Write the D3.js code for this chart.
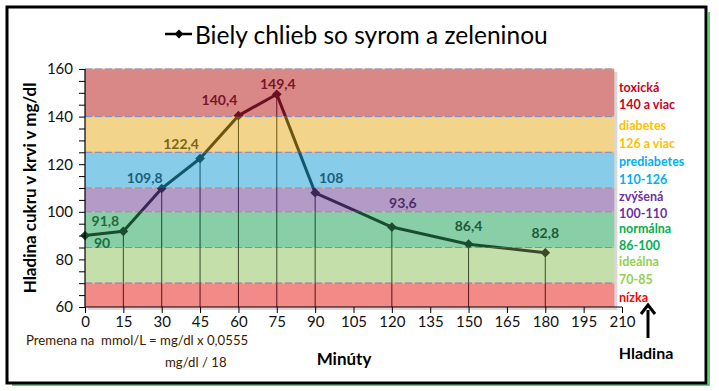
<!DOCTYPE html>
<html>
<head>
<meta charset="utf-8">
<script src="https://cdn.jsdelivr.net/npm/d3@7"></script>
<style>
  body { margin: 0; background: #fff; }
  svg { display: block; font-family: Lato, "Open Sans", sans-serif; }
</style>
</head>
<body>
<script>
// measured points of the glucose curve
var minutes = [0, 15, 30, 45, 60, 75, 90, 120, 150, 180],
	glucose = [90, 91.8, 109.8, 122.4, 140.4, 149.4, 108, 93.6, 86.4, 82.8],
// zone limits (mg/dl)
	zoneLow  = [60, 70, 85, 100, 110, 125, 140],
	zoneHigh = [70, 85, 100, 110, 125, 140, 160],
// x and y tick labels
	xTicks = [0, 15, 30, 45, 60, 75, 90, 105, 120, 135, 150, 165, 180, 195, 210],
	yTicks = [60, 80, 100, 120, 140, 160],
// zone captions on the right, top to bottom
	zoneCaptions = ['toxická', '140 a viac', 'diabetes', '126 a viac', 'prediabetes', '110-126',
		'zvýšená', '100-110', 'normálna', '86-100', 'ideálna', '70-85', 'nízka'];

// styles per zone (same order as zoneLow)
var zoneFill = ['#f28a88', '#c4dfa9', '#88cfa7', '#b49ac6', '#87cdea', '#f2d58a', '#d98887'],
	zoneLine = ['#5a1018', '#3b4a2b', '#1a4d30', '#3b2658', '#14566b', '#6b5510', '#6b1020'],
	captionColor = ['#cc0022', '#cc0022', '#ffc000', '#ffc000', '#00b0f0', '#00b0f0',
		'#7030a0', '#7030a0', '#00b050', '#00b050', '#92d050', '#92d050', '#ff0000'],
	captionY = [87, 104, 125, 143, 161, 179, 196, 213, 228, 245, 261, 279, 297];

// label offsets from each point [dx, dy] and their colours
var labelOff = [[17, 7], [-18, -11], [-17, -11], [-19, -15], [-19, -16], [1, -11], [16, -15], [11, -25], [0, -19], [0, -20]],
	labelColor = ['#1e6b3e', '#1e6b3e', '#1b5f7a', '#7a6510', '#7a1525', '#7a1525', '#1b5f7a', '#4a2e6b', '#1e5a3a', '#1e5a3a'];

var W = 719, H = 391;
var svg = d3.select('body').append('svg')
	.attr('width', W)
	.attr('height', H);

var x = d3.scaleLinear().domain([0, 210]).range([85, 622]),
	y = d3.scaleLinear().domain([60, 160]).range([307, 69]);
var bandRight = x(207);

// outer frame with green shadow on the right and bottom
svg.append('path')
	.attr('d', 'M709,12 V385 H12')
	.attr('fill', 'none').attr('stroke', '#2fbf3f').attr('stroke-width', 1.5);
svg.append('rect')
	.attr('x', 7).attr('y', 7).attr('width', 699).attr('height', 376)
	.attr('fill', '#fff').attr('stroke', '#000').attr('stroke-width', 3);

// shadow behind bands
svg.append('rect')
	.attr('x', x(0) + 3).attr('y', y(160) + 3)
	.attr('width', bandRight - x(0)).attr('height', y(60) - y(160))
	.attr('fill', '#d8d8d8');

// zone bands
var defs = svg.append('defs');
zoneLow.forEach(function(lo, i) {
	var hi = zoneHigh[i];
	svg.append('rect')
		.attr('x', x(0))
		.attr('y', y(hi))
		.attr('width', bandRight - x(0))
		.attr('height', y(lo) - y(hi))
		.attr('fill', zoneFill[i]);
	defs.append('clipPath').attr('id', 'zone' + i)
		.append('rect')
		.attr('x', 0)
		.attr('y', i == zoneLow.length - 1 ? 0 : y(hi))
		.attr('width', W)
		.attr('height', i == zoneLow.length - 1 ? y(lo) : (i == 0 ? y(lo) - y(hi) + 10 : y(lo) - y(hi)));
});

// dashed zone borders
zoneHigh.concat([70]).forEach(function(v) {
	svg.append('line')
		.attr('x1', x(0)).attr('x2', bandRight)
		.attr('y1', y(v)).attr('y2', y(v))
		.attr('stroke', '#f0b090').attr('stroke-width', 1);
	svg.append('line')
		.attr('x1', x(0)).attr('x2', bandRight)
		.attr('y1', y(v)).attr('y2', y(v))
		.attr('stroke', '#6e8fd2').attr('stroke-width', 1)
		.attr('stroke-dasharray', '7,3');
});

// curve and drop lines, drawn once per zone with that zone's colour
var line = d3.line()
	.x(function(d, i) { return x(minutes[i]); })
	.y(function(d) { return y(d); });

zoneLow.forEach(function(lo, i) {
	var g = svg.append('g').attr('clip-path', 'url(#zone' + i + ')');
	g.selectAll('line.drop')
		.data(glucose.slice(1))
		.enter().append('line')
		.attr('x1', function(d, j) { return x(minutes[j + 1]); })
		.attr('x2', function(d, j) { return x(minutes[j + 1]); })
		.attr('y1', function(d) { return y(d); })
		.attr('y2', y(60))
		.attr('stroke', zoneLine[i])
		.attr('stroke-width', 1);
	g.append('path')
		.attr('d', line(glucose))
		.attr('fill', 'none')
		.attr('stroke', zoneLine[i])
		.attr('stroke-width', 3)
		.attr('stroke-linejoin', 'round');
	g.selectAll('path.mark')
		.data(glucose)
		.enter().append('path')
		.attr('d', d3.symbol().type(d3.symbolDiamond2).size(60))
		.attr('transform', function(d, j) { return 'translate(' + x(minutes[j]) + ',' + y(d) + ')'; })
		.attr('fill', zoneLine[i]);
});

// axes
var yAxis = d3.axisLeft(y)
	.tickValues(d3.range(60, 161, 5))
	.tickSize(6)
	.tickFormat(function(d) { return yTicks.indexOf(d) >= 0 ? d : ''; });
var gy = svg.append('g').attr('transform', 'translate(' + x(0) + ',0)').call(yAxis);
var xAxis = d3.axisBottom(x)
	.tickValues(xTicks)
	.tickSize(6);
var gx = svg.append('g').attr('transform', 'translate(0,' + y(60) + ')').call(xAxis);
[gx, gy].forEach(function(g) {
	g.select('.domain').attr('stroke', '#000').attr('stroke-width', 1.2);
	g.selectAll('.tick line').attr('stroke', '#000');
	g.selectAll('.tick text')
		.attr('font-family', 'Lato, sans-serif')
		.attr('font-size', 15)
		.attr('fill', '#111');
});
gy.selectAll('.tick text').attr('x', -12);
gx.selectAll('.tick text').attr('y', 9);
gy.select('.domain').attr('d', 'M0,' + y(60) + 'V' + y(160));
gx.select('.domain').attr('d', 'M' + x(0) + ',0H' + x(210));

// value labels
svg.selectAll('text.val')
	.data(glucose)
	.enter().append('text')
	.attr('class', 'val')
	.text(function(d) { return String(d).replace('.', ','); })
	.attr('x', function(d, i) { return x(minutes[i]) + labelOff[i][0]; })
	.attr('y', function(d, i) { return y(d) + labelOff[i][1]; })
	.attr('text-anchor', 'middle')
	.attr('dominant-baseline', 'central')
	.attr('font-weight', 'bold')
	.attr('font-size', 14)
	.attr('fill', function(d, i) { return labelColor[i]; });

// zone captions
svg.selectAll('text.cap')
	.data(zoneCaptions)
	.enter().append('text')
	.attr('class', 'cap')
	.text(function(d) { return d; })
	.attr('x', 619)
	.attr('y', function(d, i) { return captionY[i]; })
	.attr('dominant-baseline', 'central')
	.attr('font-weight', 'bold')
	.attr('font-size', 12.5)
	.attr('fill', function(d, i) { return captionColor[i]; });

// title with legend marker
svg.append('line')
	.attr('x1', 165).attr('x2', 192).attr('y1', 34).attr('y2', 34)
	.attr('stroke', '#000').attr('stroke-width', 2.5);
svg.append('path')
	.attr('d', d3.symbol().type(d3.symbolDiamond2).size(50))
	.attr('transform', 'translate(179,34)')
	.attr('fill', '#000');
svg.append('text')
	.text('Biely chlieb so syrom a zeleninou')
	.attr('x', 195).attr('y', 34)
	.attr('dominant-baseline', 'central')
	.attr('font-size', 24.5)
	.attr('fill', '#000');

// y axis title
svg.append('text')
	.text('Hladina cukru v krvi v mg/dl')
	.attr('transform', 'translate(29,188) rotate(-90)')
	.attr('text-anchor', 'middle')
	.attr('dominant-baseline', 'central')
	.attr('font-weight', 'bold')
	.attr('font-size', 17)
	.attr('fill', '#000');

// x axis title
svg.append('text')
	.text('Minúty')
	.attr('x', 344).attr('y', 358)
	.attr('text-anchor', 'middle')
	.attr('dominant-baseline', 'central')
	.attr('font-weight', 'bold')
	.attr('font-size', 17)
	.attr('fill', '#000');

// conversion note
svg.append('text')
	.text('Premena na  mmol/L = mg/dl x 0,0555')
	.attr('x', 26).attr('y', 340)
	.attr('dominant-baseline', 'central')
	.attr('font-size', 13.2)
	.attr('fill', '#3a2000')
	.style('white-space', 'pre');
svg.append('text')
	.text('mg/dl / 18')
	.attr('x', 165).attr('y', 362)
	.attr('dominant-baseline', 'central')
	.attr('font-size', 13.2)
	.attr('fill', '#3a2000');

// "Hladina" arrow
svg.append('line')
	.attr('x1', 648).attr('x2', 648).attr('y1', 338).attr('y2', 310)
	.attr('stroke', '#000').attr('stroke-width', 3);
svg.append('path')
	.attr('d', 'M641,314 L648,305 L655,314')
	.attr('fill', 'none').attr('stroke', '#000').attr('stroke-width', 3);
svg.append('text')
	.text('Hladina')
	.attr('x', 646).attr('y', 352)
	.attr('text-anchor', 'middle')
	.attr('dominant-baseline', 'central')
	.attr('font-weight', 'bold')
	.attr('font-size', 16)
	.attr('fill', '#000');
</script>
</body>
</html>
